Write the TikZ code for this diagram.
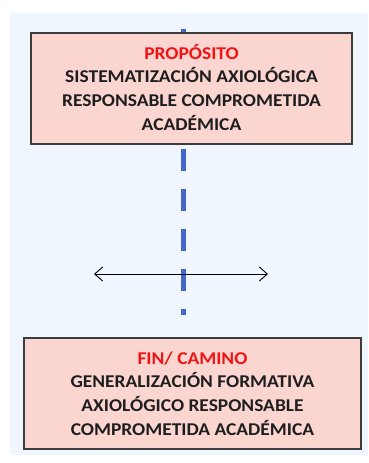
\documentclass[tikz,border=0pt]{standalone}
\usepackage{fontspec}
\setmainfont{Carlito}[FakeStretch=1.08]
\usetikzlibrary{arrows.meta}
\definecolor{bgblue}{RGB}{240,246,253}
\definecolor{boxfill}{RGB}{251,214,209}
\definecolor{boxline}{RGB}{60,60,60}
\definecolor{dashblue}{RGB}{68,104,200}
\definecolor{titlered}{RGB}{240,20,20}
\definecolor{txt}{RGB}{30,30,30}
\tikzset{
  pinkbox/.style={draw=boxline, line width=1.5pt, fill=boxfill, inner sep=0pt,
    font=\fontsize{18}{23.7}\selectfont\bfseries, text=txt, align=center},
  axis/.style={draw=dashblue, line width=5pt, dash pattern=on 22pt off 18pt},
  dbl/.style={draw=black, line width=0.9pt, {Straight Barb[length=8pt,width=14pt]}-{Straight Barb[length=8pt,width=14pt]}}
}
\begin{document}
\begin{tikzpicture}[x=1pt,y=-1pt]
\useasboundingbox (0,0) rectangle (368,463);
\fill[bgblue] (10,13) rectangle (368,455);
\coordinate (vtop) at (183,29);
\coordinate (vbot) at (183,315);
\draw[axis] (vtop) -- (vbot);
\coordinate (aL) at (94,274);
\coordinate (aR) at (268,274);
\draw[dbl] (aL) -- (aR);
\node[pinkbox, minimum width=321pt, minimum height=111pt, text depth=3pt] (prop) at (191.5,88.5)
  {{\color{titlered}PROPÓSITO}\\SISTEMATIZACIÓN AXIOLÓGICA\\RESPONSABLE COMPROMETIDA\\ACADÉMICA};
\node[pinkbox, minimum width=337pt, minimum height=111pt] (fin) at (192.5,393.5)
  {{\color{titlered}FIN/ CAMINO}\\GENERALIZACIÓN FORMATIVA\\AXIOLÓGICO RESPONSABLE\\COMPROMETIDA ACADÉMICA};
\end{tikzpicture}
\end{document}
